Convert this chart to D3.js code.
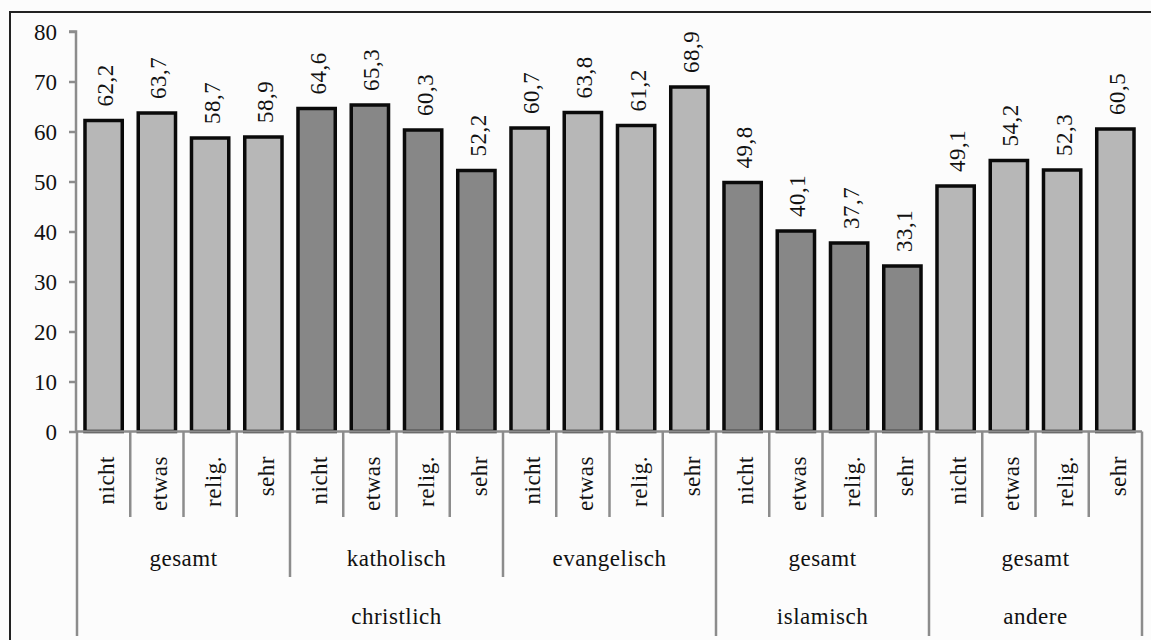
<!DOCTYPE html>
<html>
<head>
<meta charset="utf-8">
<script src="https://cdn.jsdelivr.net/npm/d3@7"></script>
<style>
  html, body { margin: 0; padding: 0; background: #fcfcfc; }
  svg { display: block; }
  svg text { font-family: 'Liberation Serif', 'Times New Roman', serif; fill: #111; }
</style>
</head>
<body>
<svg id="chart" width="1151" height="640"></svg>
<script>
// Religiosity levels (innermost category level)
const levels = ["nicht", "etwas", "relig.", "sehr"];
// Sub-groups (middle level) and their parent groups (outer level)
const subGroups = ["gesamt", "katholisch", "evangelisch", "gesamt", "gesamt"];
const subParents = ["christlich", "christlich", "christlich", "islamisch", "andere"];
const mainGroups = ["christlich", "islamisch", "andere"];
// Shade per sub-group: light or dark bars
const subShade = ["light", "dark", "light", "dark", "light"];
// Values for each bar, in order of sub-group then level
const values = [
  62.2, 63.7, 58.7, 58.9,
  64.6, 65.3, 60.3, 52.2,
  60.7, 63.8, 61.2, 68.9,
  49.8, 40.1, 37.7, 33.1,
  49.1, 54.2, 52.3, 60.5
];
const yTicks = [0, 10, 20, 30, 40, 50, 60, 70, 80];

const fills = { light: "#b7b7b7", dark: "#878787" };
const axisGrey = "#8c8c8c";
const fontFamily = "'Liberation Serif', 'Times New Roman', serif";

const svg = d3.select("#chart");

// Outer frame
svg.append("path")
  .attr("d", "M10,640 L10,12 L1151,12")
  .attr("fill", "none").attr("stroke", "#222").attr("stroke-width", 2);

const bars = values.map((v, i) => ({
  key: i,
  value: v,
  level: levels[i % 4],
  sub: Math.floor(i / 4)
}));

const x = d3.scaleBand()
  .domain(bars.map(d => d.key))
  .range([77, 1142])
  .paddingInner(0.3)
  .paddingOuter(0.15);
const slot = (x.range()[1] - x.range()[0]) / bars.length;
const bandStart = i => x.range()[0] + i * slot;

const y = d3.scaleLinear().domain([0, 80]).range([431.5, 31.5]);

const font = { size: 23, spacing: 0.5 };
const styleText = sel => sel
  .attr("font-family", fontFamily)
  .style("font-family", fontFamily)
  .style("font-size", font.size + "px")
  .style("letter-spacing", font.spacing + "px");

// Y axis
const yAxis = d3.axisLeft(y).tickValues(yTicks).tickSize(7).tickPadding(12).tickFormat(d3.format("d"));
const gy = svg.append("g").attr("transform", "translate(76,0)").call(yAxis)
  .attr("font-family", fontFamily);
gy.select(".domain").attr("stroke", axisGrey).attr("stroke-width", 2.5)
  .attr("d", `M-7,${y(80)}H0V${y(0)}`);
gy.selectAll(".tick line").attr("stroke", axisGrey).attr("stroke-width", 2.5);
gy.selectAll(".tick text")
  .call(styleText)
  .style("letter-spacing", "0px")
  .attr("fill", "#111")
  .attr("dy", "0.35em");

// Bars
svg.append("g").selectAll("rect").data(bars).join("rect")
  .attr("x", d => x(d.key))
  .attr("y", d => y(d.value))
  .attr("width", x.bandwidth())
  .attr("height", d => y(0) - y(d.value))
  .attr("fill", d => fills[subShade[d.sub]])
  .attr("stroke", "#0a0a0a")
  .attr("stroke-width", 3.5);

// Value labels, rotated above each bar
const fmt = v => d3.format(".1f")(v).replace(".", ",");
svg.append("g").selectAll("text").data(bars).join("text")
  .attr("transform", d => `translate(${x(d.key) + x.bandwidth() / 2 + 2},${y(d.value) - 14}) rotate(-90)`)
  .attr("text-anchor", "start")
  .attr("dominant-baseline", "central")
  .call(styleText)
  .text(d => fmt(d.value));

// Category axis baseline
const axisY = y(0);
const lineG = svg.append("g").attr("stroke", axisGrey).attr("stroke-width", 2.5);
lineG.append("line")
  .attr("x1", 76).attr("x2", 1142).attr("y1", axisY).attr("y2", axisY);

// Separator lines: deeper for group and main-group borders
const depth1 = 517, depth2 = 577, depth3 = 636;
const boundaries = d3.range(bars.length + 1).map(i => {
  let bottom = depth1;
  if (i % 4 === 0) bottom = depth2;
  const subIdx = i / 4;
  if (i === 0 || i === bars.length ||
      (i % 4 === 0 && subParents[subIdx] !== subParents[subIdx - 1])) bottom = depth3;
  return { i, bottom };
});
lineG.selectAll("line.sep").data(boundaries).join("line")
  .attr("class", "sep")
  .attr("x1", d => bandStart(d.i)).attr("x2", d => bandStart(d.i))
  .attr("y1", axisY).attr("y2", d => d.bottom);

// Level labels (rotated)
svg.append("g").selectAll("text").data(bars).join("text")
  .attr("transform", d => `translate(${bandStart(d.key) + slot / 2 + 3},456) rotate(-90)`)
  .attr("text-anchor", "end")
  .attr("dominant-baseline", "central")
  .call(styleText)
  .text(d => d.level);

// Sub-group labels
svg.append("g").selectAll("text").data(subGroups).join("text")
  .attr("x", (d, i) => bandStart(i * 4) + slot * 2)
  .attr("y", 566)
  .attr("text-anchor", "middle")
  .call(styleText)
  .text(d => d);

// Main group labels
const mainSpans = mainGroups.map(g => {
  const idx = subParents.map((p, i) => p === g ? i : -1).filter(i => i >= 0);
  return { name: g, start: d3.min(idx) * 4, end: (d3.max(idx) + 1) * 4 };
});
svg.append("g").selectAll("text").data(mainSpans).join("text")
  .attr("x", d => (bandStart(d.start) + bandStart(d.end)) / 2)
  .attr("y", 624)
  .attr("text-anchor", "middle")
  .call(styleText)
  .text(d => d.name);
</script>
</body>
</html>
